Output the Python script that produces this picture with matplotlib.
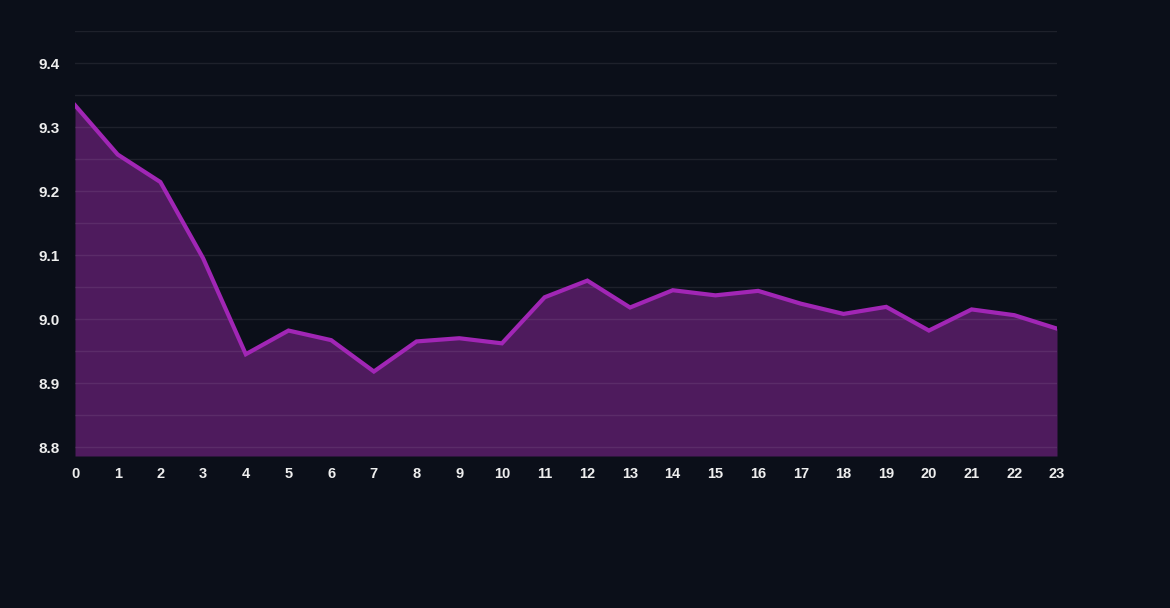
import matplotlib
matplotlib.use("Agg")
import matplotlib.pyplot as plt
import numpy as np
from matplotlib.ticker import MultipleLocator

hours = list(range(24))
values = [9.334, 9.257, 9.214, 9.095, 8.945, 8.982, 8.967, 8.918, 8.965, 8.970,
          8.962, 9.034, 9.060, 9.018, 9.045, 9.037, 9.044, 9.024, 9.008, 9.019,
          8.982, 9.015, 9.006, 8.985]
y_ticks = [8.8, 8.9, 9.0, 9.1, 9.2, 9.3, 9.4]

bg = "#0b0f19"
plt.rcParams['font.family'] = ['Liberation Sans', 'DejaVu Sans']

fig = plt.figure(figsize=(11.7, 6.08), dpi=100, facecolor=bg)
ax = fig.add_axes([75/1170, 1 - 456/608, (1057-75)/1170, (456-31)/608])
ax.set_facecolor(bg)

ymin, ymax = 8.786, 9.45
ax.fill_between(hours, values, ymin, color="#4e1b5d", zorder=1, linewidth=0)
ax.plot(hours, values, color="#a126b5", linewidth=3, zorder=3, solid_joinstyle='miter')

ax.set_xlim(0, 23)
ax.set_ylim(ymin, ymax)
ax.set_xticks(hours)
ax.set_yticks(y_ticks)
ax.set_yticklabels([f"{t:.1f}" for t in y_ticks])
ax.yaxis.set_minor_locator(MultipleLocator(0.05))
ax.grid(True, which='both', axis='y', color='#ffffff', alpha=0.08, linewidth=1, zorder=2)
ax.set_axisbelow(False)

for s in ax.spines.values():
    s.set_visible(False)
ax.tick_params(axis='both', which='both', length=0, colors='#eeeeee')
ax.tick_params(axis='y', pad=11, labelsize=11)
ax.tick_params(axis='x', pad=8, labelsize=10.5)
for lab in ax.get_xticklabels() + ax.get_yticklabels():
    lab.set_fontweight('bold')

fig.savefig("out.png", dpi=100, facecolor=bg)
